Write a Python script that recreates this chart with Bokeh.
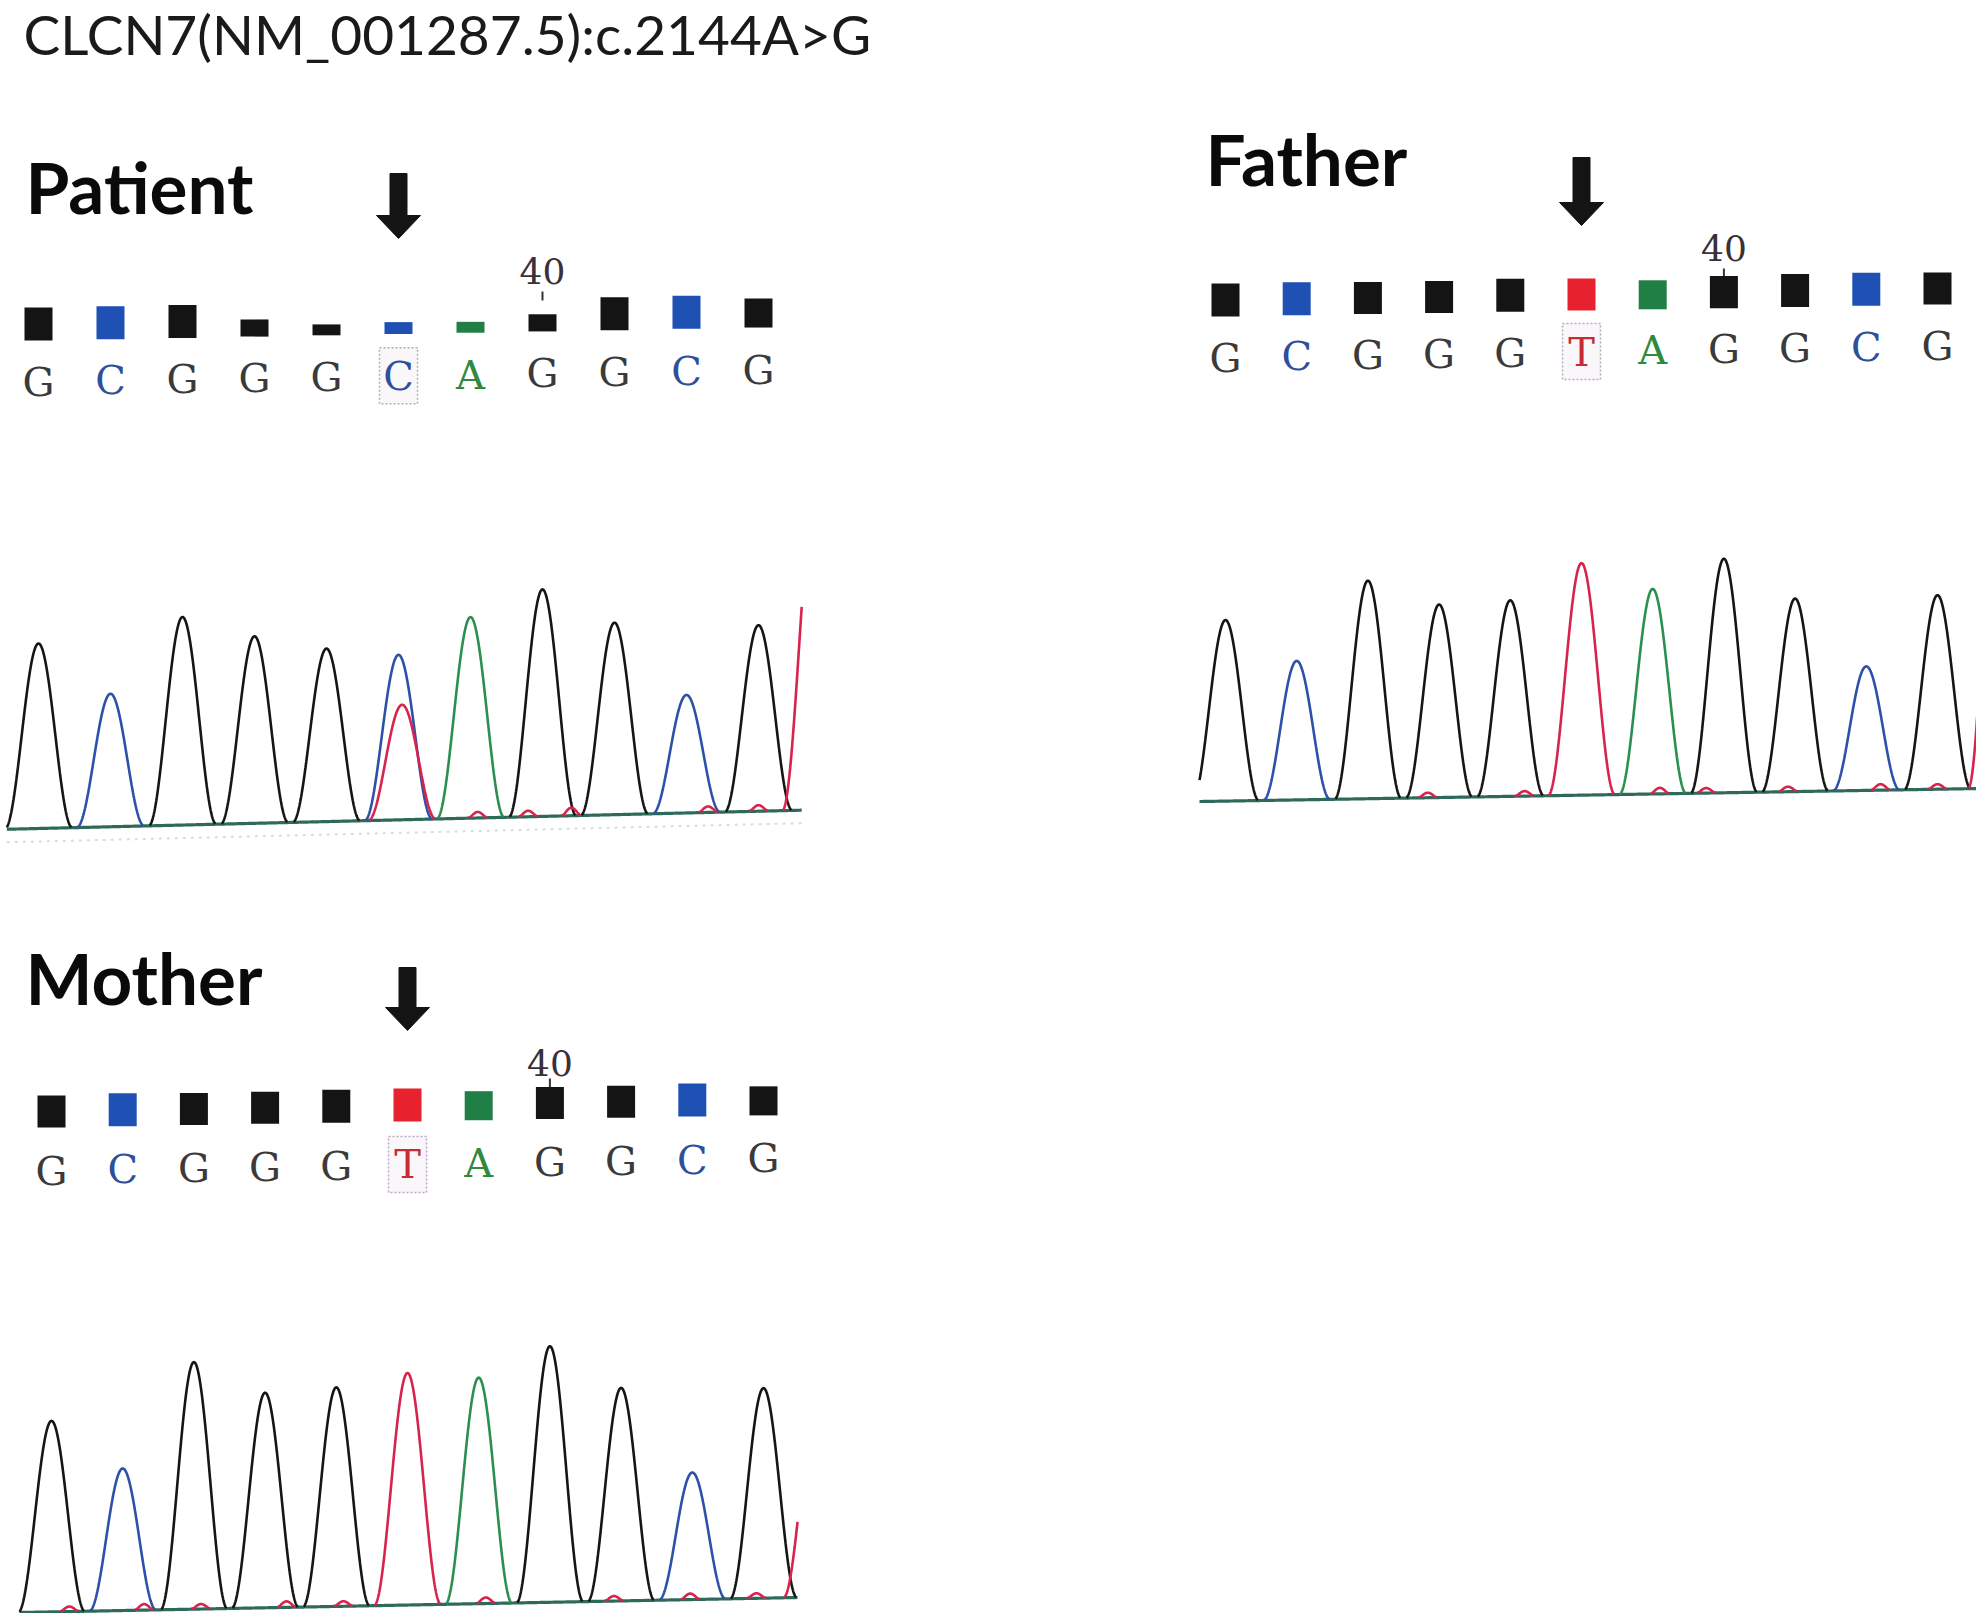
import numpy as np
from bokeh.plotting import figure
from bokeh.models import Range1d
from bokeh.core.properties import value
from bokeh.embed import file_html
from bokeh.resources import INLINE

# ---------------- data ----------------
TITLE = "CLCN7(NM_001287.5):c.2144A>G"
PANEL_NAMES = ["Patient", "Father", "Mother"]
POS_LABEL = "40"
POS_LABEL_INDEX = 7
VARIANT_INDEX = 5

PATIENT_CALLS = list("GCGGGCAGGCG")
FATHER_CALLS = list("GCGGGTAGGCG")
MOTHER_CALLS = list("GCGGGTAGGCG")

# quality bars (relative height)
PATIENT_QV = [1.0, 1.0, 1.0, 0.52, 0.33, 0.36, 0.33, 0.52, 1.0, 1.0, 0.88]
FATHER_QV = [1.0, 1.0, 0.97, 0.97, 1.0, 0.97, 0.88, 0.97, 1.0, 1.0, 0.97]
MOTHER_QV = [0.97, 1.0, 0.97, 0.97, 1.0, 1.0, 0.88, 0.97, 0.97, 1.0, 0.88]

# primary peak height of each called base
PATIENT_PEAK = [185, 133, 208, 187, 173, 165, 201, 227, 192, 118, 186]
FATHER_PEAK = [181, 139, 218, 193, 196, 232, 205, 234, 193, 124, 194]
MOTHER_PEAK = [191, 142, 247, 215, 219, 232, 226, 256, 213, 127, 210]

# secondary / edge peaks
PATIENT_EXTRA_BASE = ["T", "T"]
PATIENT_EXTRA_POS = [5.05, 10.8]
PATIENT_EXTRA_HEIGHT = [115, 330]
FATHER_EXTRA_BASE = ["T"]
FATHER_EXTRA_POS = [10.9]
FATHER_EXTRA_HEIGHT = [420]
MOTHER_EXTRA_BASE = ["T"]
MOTHER_EXTRA_POS = [10.75]
MOTHER_EXTRA_HEIGHT = [200]

# small baseline noise (T channel)
PATIENT_NOISE_POS = [6.1, 6.8, 7.4, 9.3, 10.0]
PATIENT_NOISE_HEIGHT = [6, 6, 8, 6, 6]
FATHER_NOISE_POS = [2.84, 4.2, 6.1, 6.75, 7.9, 9.2, 10.0]
FATHER_NOISE_HEIGHT = [5, 5, 6, 5, 5, 6, 5]
MOTHER_NOISE_POS = [0.25, 1.3, 2.1, 3.3, 4.1, 6.1, 7.9, 8.97, 9.9]
MOTHER_NOISE_HEIGHT = [5, 6, 5, 6, 5, 6, 5, 6, 5]

# ---------------- styles / layout ----------------
TRACE_COL = {"G": "#151515", "C": "#2d50a8", "A": "#2a8f50", "T": "#d8234d"}
BOX_COL = {"G": "#141414", "C": "#1f50b4", "A": "#1f7f45", "T": "#e8212e"}
LETTER_COL = {"G": "#3a3a3a", "C": "#2e4f99", "A": "#2f8a3f", "T": "#c62a33"}

LAYOUT = {
    "Patient": dict(x0=38, dx=72.0, base_y=828, slope=-0.024, t0=-0.44, t1=10.6,
                    sq_y=340, sq_slope=-0.018, let_y=381, let_slope=-0.016,
                    lab_y=270, tick=(291, 300), arrow=(173, 238), label=(25, 186),
                    dotted=True),
    "Father": dict(x0=1225, dx=71.2, base_y=800.6, slope=-0.0167, t0=-0.365, t1=10.59,
                   sq_y=316, sq_slope=-0.0168, let_y=357, let_slope=-0.0168,
                   lab_y=247, tick=(268, 278), arrow=(157, 225), label=(1205, 158),
                   dotted=False),
    "Mother": dict(x0=51, dx=71.2, base_y=1611.4, slope=-0.0193, t0=-0.45, t1=10.48,
                   sq_y=1127, sq_slope=-0.017, let_y=1170, let_slope=-0.017,
                   lab_y=1062, tick=(1078, 1088), arrow=(967, 1030), label=(25, 977),
                   dotted=False),
}

DATA = {
    "Patient": (PATIENT_CALLS, PATIENT_QV, PATIENT_PEAK, PATIENT_EXTRA_BASE,
                PATIENT_EXTRA_POS, PATIENT_EXTRA_HEIGHT, PATIENT_NOISE_POS, PATIENT_NOISE_HEIGHT),
    "Father": (FATHER_CALLS, FATHER_QV, FATHER_PEAK, FATHER_EXTRA_BASE,
               FATHER_EXTRA_POS, FATHER_EXTRA_HEIGHT, FATHER_NOISE_POS, FATHER_NOISE_HEIGHT),
    "Mother": (MOTHER_CALLS, MOTHER_QV, MOTHER_PEAK, MOTHER_EXTRA_BASE,
               MOTHER_EXTRA_POS, MOTHER_EXTRA_HEIGHT, MOTHER_NOISE_POS, MOTHER_NOISE_HEIGHT),
}

PEAK_W = 0.94
NOISE_W = 0.3
SQ_W = 28
SQ_H = 33

W, H = 1976, 1613
p = figure(width=W, height=H, x_range=Range1d(0, W), y_range=Range1d(H, 0),
           output_backend="svg", toolbar_location=None, min_border=0)
p.axis.visible = False
p.grid.visible = False
p.outline_line_color = None
p.background_fill_color = "white"
p.border_fill_color = "white"

# title
p.text(x=[23], y=[33], text=[TITLE], text_font=value("Lato"), text_font_size=value("55px"),
       text_color="#1a1a1a", text_baseline="middle", text_align="left")


def hann(t, pos, h, w):
    out = np.zeros_like(t)
    for c, a in zip(pos, h):
        d = t - c
        m = np.abs(d) < w / 2
        out[m] += a * 0.5 * (1 + np.cos(2 * np.pi * d[m] / w))
    return out


for name in PANEL_NAMES:
    L = LAYOUT[name]
    calls, qv, peak, eb, ep, eh, npos, nh = DATA[name]
    idx = np.arange(len(calls))
    xs = L["x0"] + idx * L["dx"]

    # panel label
    lx, ly = L["label"]
    p.text(x=[lx], y=[ly], text=[name], text_font=value("Lato"), text_font_style="bold",
           text_font_size=value("71px"), text_color="#0a0a0a",
           text_baseline="middle", text_align="left")

    # arrow at variant
    ax = L["x0"] + VARIANT_INDEX * L["dx"]
    at, ab = L["arrow"]
    hs = ab - 23
    p.patch(x=[ax - 8.5, ax + 8.5, ax + 8.5, ax + 22, ax, ax - 22, ax - 8.5],
            y=[at, at, hs, hs, ab, hs, hs], fill_color="#141414", line_color="#141414",
            line_width=1)

    # position label
    px40 = L["x0"] + POS_LABEL_INDEX * L["dx"]
    p.text(x=[px40], y=[L["lab_y"]], text=[POS_LABEL], text_font=value("DejaVu Serif"),
           text_font_size=value("36px"), text_color="#3a3038", text_align="center",
           text_baseline="middle")
    p.segment(x0=[px40], y0=[L["tick"][0]], x1=[px40], y1=[L["tick"][1]],
              line_color="#333333", line_width=2)

    # quality squares
    bottoms = L["sq_y"] + L["sq_slope"] * (xs - L["x0"])
    tops = bottoms - np.array(qv) * SQ_H
    p.quad(left=xs - SQ_W / 2, right=xs + SQ_W / 2, bottom=bottoms, top=tops,
           fill_color=[BOX_COL[b] for b in calls], line_color=None)

    # base letters
    ly_ = L["let_y"] + L["let_slope"] * (xs - L["x0"])
    vx = xs[VARIANT_INDEX]
    vy = ly_[VARIANT_INDEX]
    p.rect(x=[vx], y=[vy], width=38, height=56, fill_color="#f6f2f6", fill_alpha=0.6,
           line_color="#b8a8c0", line_dash="2 2", line_width=1.5)
    p.text(x=xs, y=ly_, text=calls, text_font=value("DejaVu Serif"),
           text_font_size=value("40px"), text_color=[LETTER_COL[b] for b in calls],
           text_align="center", text_baseline="middle")

    # chromatogram traces
    t = np.arange(L["t0"], L["t1"] + 1e-9, 0.004)
    sx = L["x0"] + t * L["dx"]
    base = L["base_y"] + L["slope"] * (sx - L["x0"])

    if L["dotted"]:
        p.line(x=sx, y=base + 13, line_color="#d6dde1", line_width=2, line_dash="3 5")
    p.line(x=sx, y=base, line_color="#2e6a5c", line_width=3.2)

    for ch in ["G", "C", "A", "T"]:
        pos = [i for i, b in enumerate(calls) if b == ch]
        hts = [peak[i] for i in pos]
        pos += [q for b, q in zip(eb, ep) if b == ch]
        hts += [a for b, a in zip(eb, eh) if b == ch]
        sig = hann(t, pos, hts, PEAK_W)
        if ch == "T":
            sig = sig + hann(t, npos, nh, NOISE_W)
        if sig.max() <= 0:
            continue
        yy = base - sig
        yy = np.where(sig < 0.3, np.nan, yy)
        p.line(x=sx, y=yy, line_color=TRACE_COL[ch], line_width=2.6)

open("out.html", "w").write(file_html(p, INLINE))
